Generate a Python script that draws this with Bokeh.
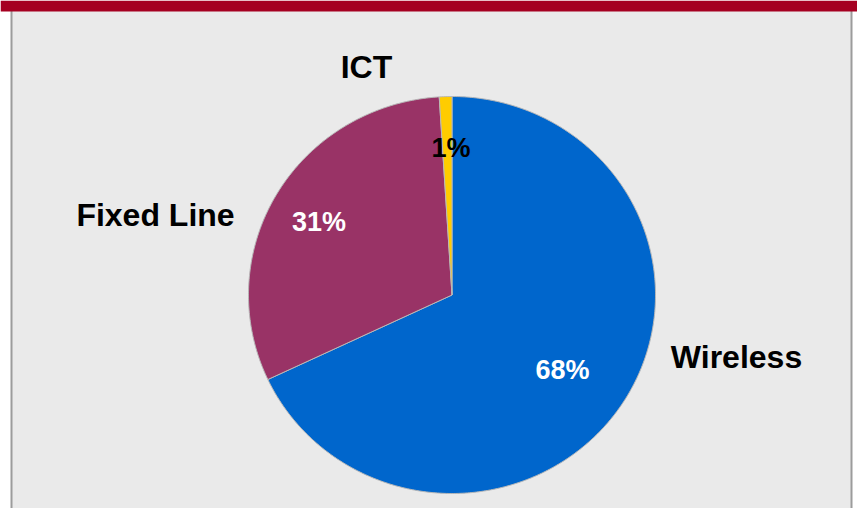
import math
import numpy as np
from bokeh.plotting import figure
from bokeh.models import Range1d, ColumnDataSource
from bokeh.core.properties import value
from bokeh.embed import file_html
from bokeh.resources import INLINE

# ---- data ----
categories = ["Wireless", "Fixed Line", "ICT"]
shares = [68, 31, 1]
colors = ["#0066CC", "#993366", "#FFCC00"]
pct_labels = ["68%", "31%", "1%"]

W, H = 857, 508

p = figure(width=W, height=H, output_backend="svg", toolbar_location=None,
           x_range=Range1d(0, W), y_range=Range1d(0, H),
           min_border=0, outline_line_color=None,
           background_fill_color="white", border_fill_color="white")
p.axis.visible = False
p.grid.visible = False
p.styles = {"position": "absolute", "left": "0px", "top": "0px"}

def Y(y):
    return H - y

# panel background and frame
p.quad(left=[11], right=[851], bottom=[0], top=[Y(10)],
       fill_color="#EAEAEA", line_color=None)
p.segment(x0=[11, 851], y0=[0, 0], x1=[11, 851], y1=[Y(10), Y(10)],
          line_color="#9C9C9C", line_width=2)
# top red band
p.quad(left=[0], right=[W], bottom=[Y(11)], top=[H],
       fill_color="#A50021", line_color=None)

# pie (slightly elliptical, as in the reference)
total = sum(shares)
cx, cy, rx, ry = 451.5, Y(294.5), 203.5, 198.5
xs, ys = [], []
acc = 0.0
for s in shares:
    a0 = math.pi / 2 - 2 * math.pi * acc / total
    acc += s
    a1 = math.pi / 2 - 2 * math.pi * acc / total
    n = max(4, int(abs(a1 - a0) / (2 * math.pi) * 720))
    t = np.linspace(a0, a1, n)
    xs.append([cx] + list(cx + rx * np.cos(t)) + [cx])
    ys.append([cy] + list(cy + ry * np.sin(t)) + [cy])

src = ColumnDataSource(dict(cat=categories, share=shares, color=colors, xs=xs, ys=ys))
p.patches(xs="xs", ys="ys", fill_color="color", line_color="#B8B8B8",
          line_width=1, source=src)

dy = 10.5  # svg text baseline correction

# category labels
cat_x = [736, 155, 366]
cat_y = [Y(367.3 - dy), Y(225 - dy), Y(76.7 - dy)]
p.text(x=cat_x, y=cat_y, text=categories, text_font=value("Liberation Sans"),
       text_font_style="bold", text_font_size="32px", text_color="black",
       text_align="center", text_baseline="alphabetic")

# percent labels
pct_x = [562, 318.5, 450.5]
pct_y = [Y(380 - dy), Y(231.7 - dy), Y(158.3 - dy)]
p.text(x=pct_x, y=pct_y, text=pct_labels, text_font=value("Liberation Sans"),
       text_font_style="bold", text_font_size="27px",
       text_color=["white", "white", "black"],
       text_align="center", text_baseline="alphabetic")

open("out.html", "w").write(file_html(p, INLINE))
